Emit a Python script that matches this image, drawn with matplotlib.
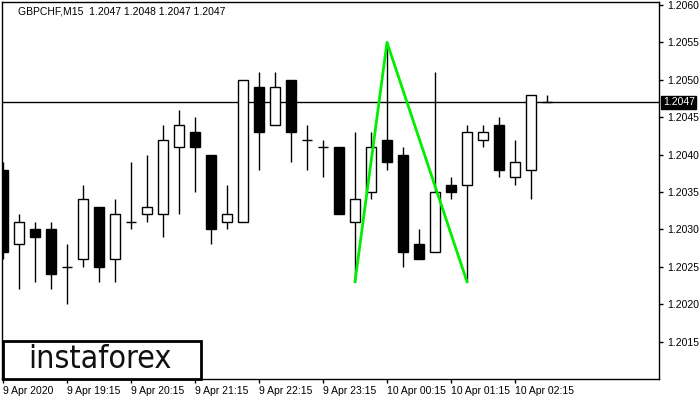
import numpy as np
import matplotlib
matplotlib.use("Agg")
import matplotlib.pyplot as plt
import matplotlib.transforms as mtransforms
from matplotlib.patches import Rectangle

# GBPCHF M15 candles, 9 Apr 18:15 onwards
opens  = [1.2038, 1.2028, 1.2030, 1.2030, 1.2025, 1.2026, 1.2033, 1.2026, 1.2031, 1.2032,
          1.2032, 1.2041, 1.2043, 1.2040, 1.2031, 1.2031, 1.2049, 1.2044, 1.2050, 1.2042,
          1.2041, 1.2041, 1.2031, 1.2035, 1.2042, 1.2040, 1.2028, 1.2027, 1.2036, 1.2036,
          1.2042, 1.2044, 1.2037, 1.2038, 1.2047]
highs  = [1.2039, 1.2032, 1.2031, 1.2031, 1.2028, 1.2036, 1.2033, 1.2034, 1.2039, 1.2040,
          1.2044, 1.2046, 1.2045, 1.2040, 1.2036, 1.2050, 1.2051, 1.2051, 1.2050, 1.2044,
          1.2042, 1.2041, 1.2043, 1.2043, 1.2055, 1.2041, 1.2030, 1.2051, 1.2037, 1.2044,
          1.2044, 1.2045, 1.2042, 1.2048, 1.2048]
lows   = [1.2026, 1.2022, 1.2023, 1.2022, 1.2020, 1.2025, 1.2023, 1.2023, 1.2030, 1.2031,
          1.2029, 1.2032, 1.2035, 1.2028, 1.2030, 1.2031, 1.2038, 1.2044, 1.2039, 1.2038,
          1.2037, 1.2032, 1.2023, 1.2034, 1.2038, 1.2025, 1.2026, 1.2027, 1.2034, 1.2023,
          1.2041, 1.2037, 1.2036, 1.2034, 1.2047]
closes = [1.2027, 1.2031, 1.2029, 1.2024, 1.2025, 1.2034, 1.2025, 1.2032, 1.2031, 1.2033,
          1.2042, 1.2044, 1.2041, 1.2030, 1.2032, 1.2050, 1.2043, 1.2049, 1.2043, 1.2042,
          1.2041, 1.2032, 1.2034, 1.2041, 1.2039, 1.2027, 1.2026, 1.2035, 1.2035, 1.2043,
          1.2043, 1.2038, 1.2039, 1.2048, 1.2047]

last_price = 1.2047
title = "GBPCHF,M15  1.2047 1.2048 1.2047 1.2047"

# pattern zigzag (candle index, price)
zz_idx = [22, 24, 29]
zz_price = [1.2023, 1.2055, 1.2023]

xtick_idx = [0, 4, 8, 12, 16, 20, 24, 28, 32]
xtick_labels = ["9 Apr 2020", "9 Apr 19:15", "9 Apr 20:15", "9 Apr 21:15", "9 Apr 22:15",
                "9 Apr 23:15", "10 Apr 00:15", "10 Apr 01:15", "10 Apr 02:15"]
yticks = [1.2015, 1.2020, 1.2025, 1.2030, 1.2035, 1.2040, 1.2045, 1.2050, 1.2055, 1.2060]

plt.rcParams['font.family'] = ['Liberation Sans', 'DejaVu Sans']

fig = plt.figure(figsize=(7, 4), dpi=100)
ax = fig.add_axes([2/700, 21/400, 657/700, 377/400])

o = np.array(opens); h = np.array(highs); l = np.array(lows); c = np.array(closes)
x = np.arange(len(o))
w = 0.66

ax.vlines(x, l, h, color="k", lw=1, zorder=2)
up = c >= o
body_lo = np.minimum(o, c)
body_h = np.abs(c - o)
flat = body_h < 1e-6
ax.bar(x[~flat], body_h[~flat], w, bottom=body_lo[~flat],
       color=np.where(up[~flat], "white", "black"), edgecolor="k", lw=1, zorder=3)
ax.hlines(o[flat], x[flat] - w/2, x[flat] + w/2, color="k", lw=1, zorder=3)

ax.axhline(last_price, color="k", lw=1, zorder=1)
ax.plot(zz_idx, zz_price, color="#00ee00", lw=2, zorder=4)

ax.set_xlim(-0.0625, 41)
ax.set_ylim(1.2010, 1.20604)

ax.yaxis.tick_right()
ax.set_yticks(yticks)
ax.set_yticklabels([f"{v:.4f}" for v in yticks], fontsize=7.5)
ax.set_xticks(xtick_idx)
ax.set_xticklabels(xtick_labels, fontsize=7.5, ha="left")
ax.tick_params(axis="y", length=3, width=1, pad=3, right=True, left=False)
ax.tick_params(axis="x", length=3, width=1, pad=2)
for sp in ax.spines.values():
    sp.set_linewidth(1)

# current price tag
tr = mtransforms.blended_transform_factory(ax.transAxes, ax.transData)
ax.text(1.0 + 4/657, last_price, f"{last_price:.4f}", transform=tr, color="white",
        fontsize=7.5, va="center", ha="left", clip_on=False,
        bbox=dict(boxstyle="square,pad=0.15", fc="black", ec="black"))

ax.text(16/657, 1 - 4/377, title, transform=ax.transAxes, fontsize=7.5, va="top", ha="left")

# logo box
fig.patches.append(Rectangle((3/700, 21/400), 198/700, 38/400, transform=fig.transFigure,
                             fill=True, fc="white", ec="black", lw=2, zorder=10))
fig.text(100/700, 40/400, "instaforex", fontsize=23, ha="center", va="center",
         family="DejaVu Sans", fontstretch="condensed", fontweight="light", color="#111111",
         zorder=11)

fig.savefig("out.png", dpi=100)
